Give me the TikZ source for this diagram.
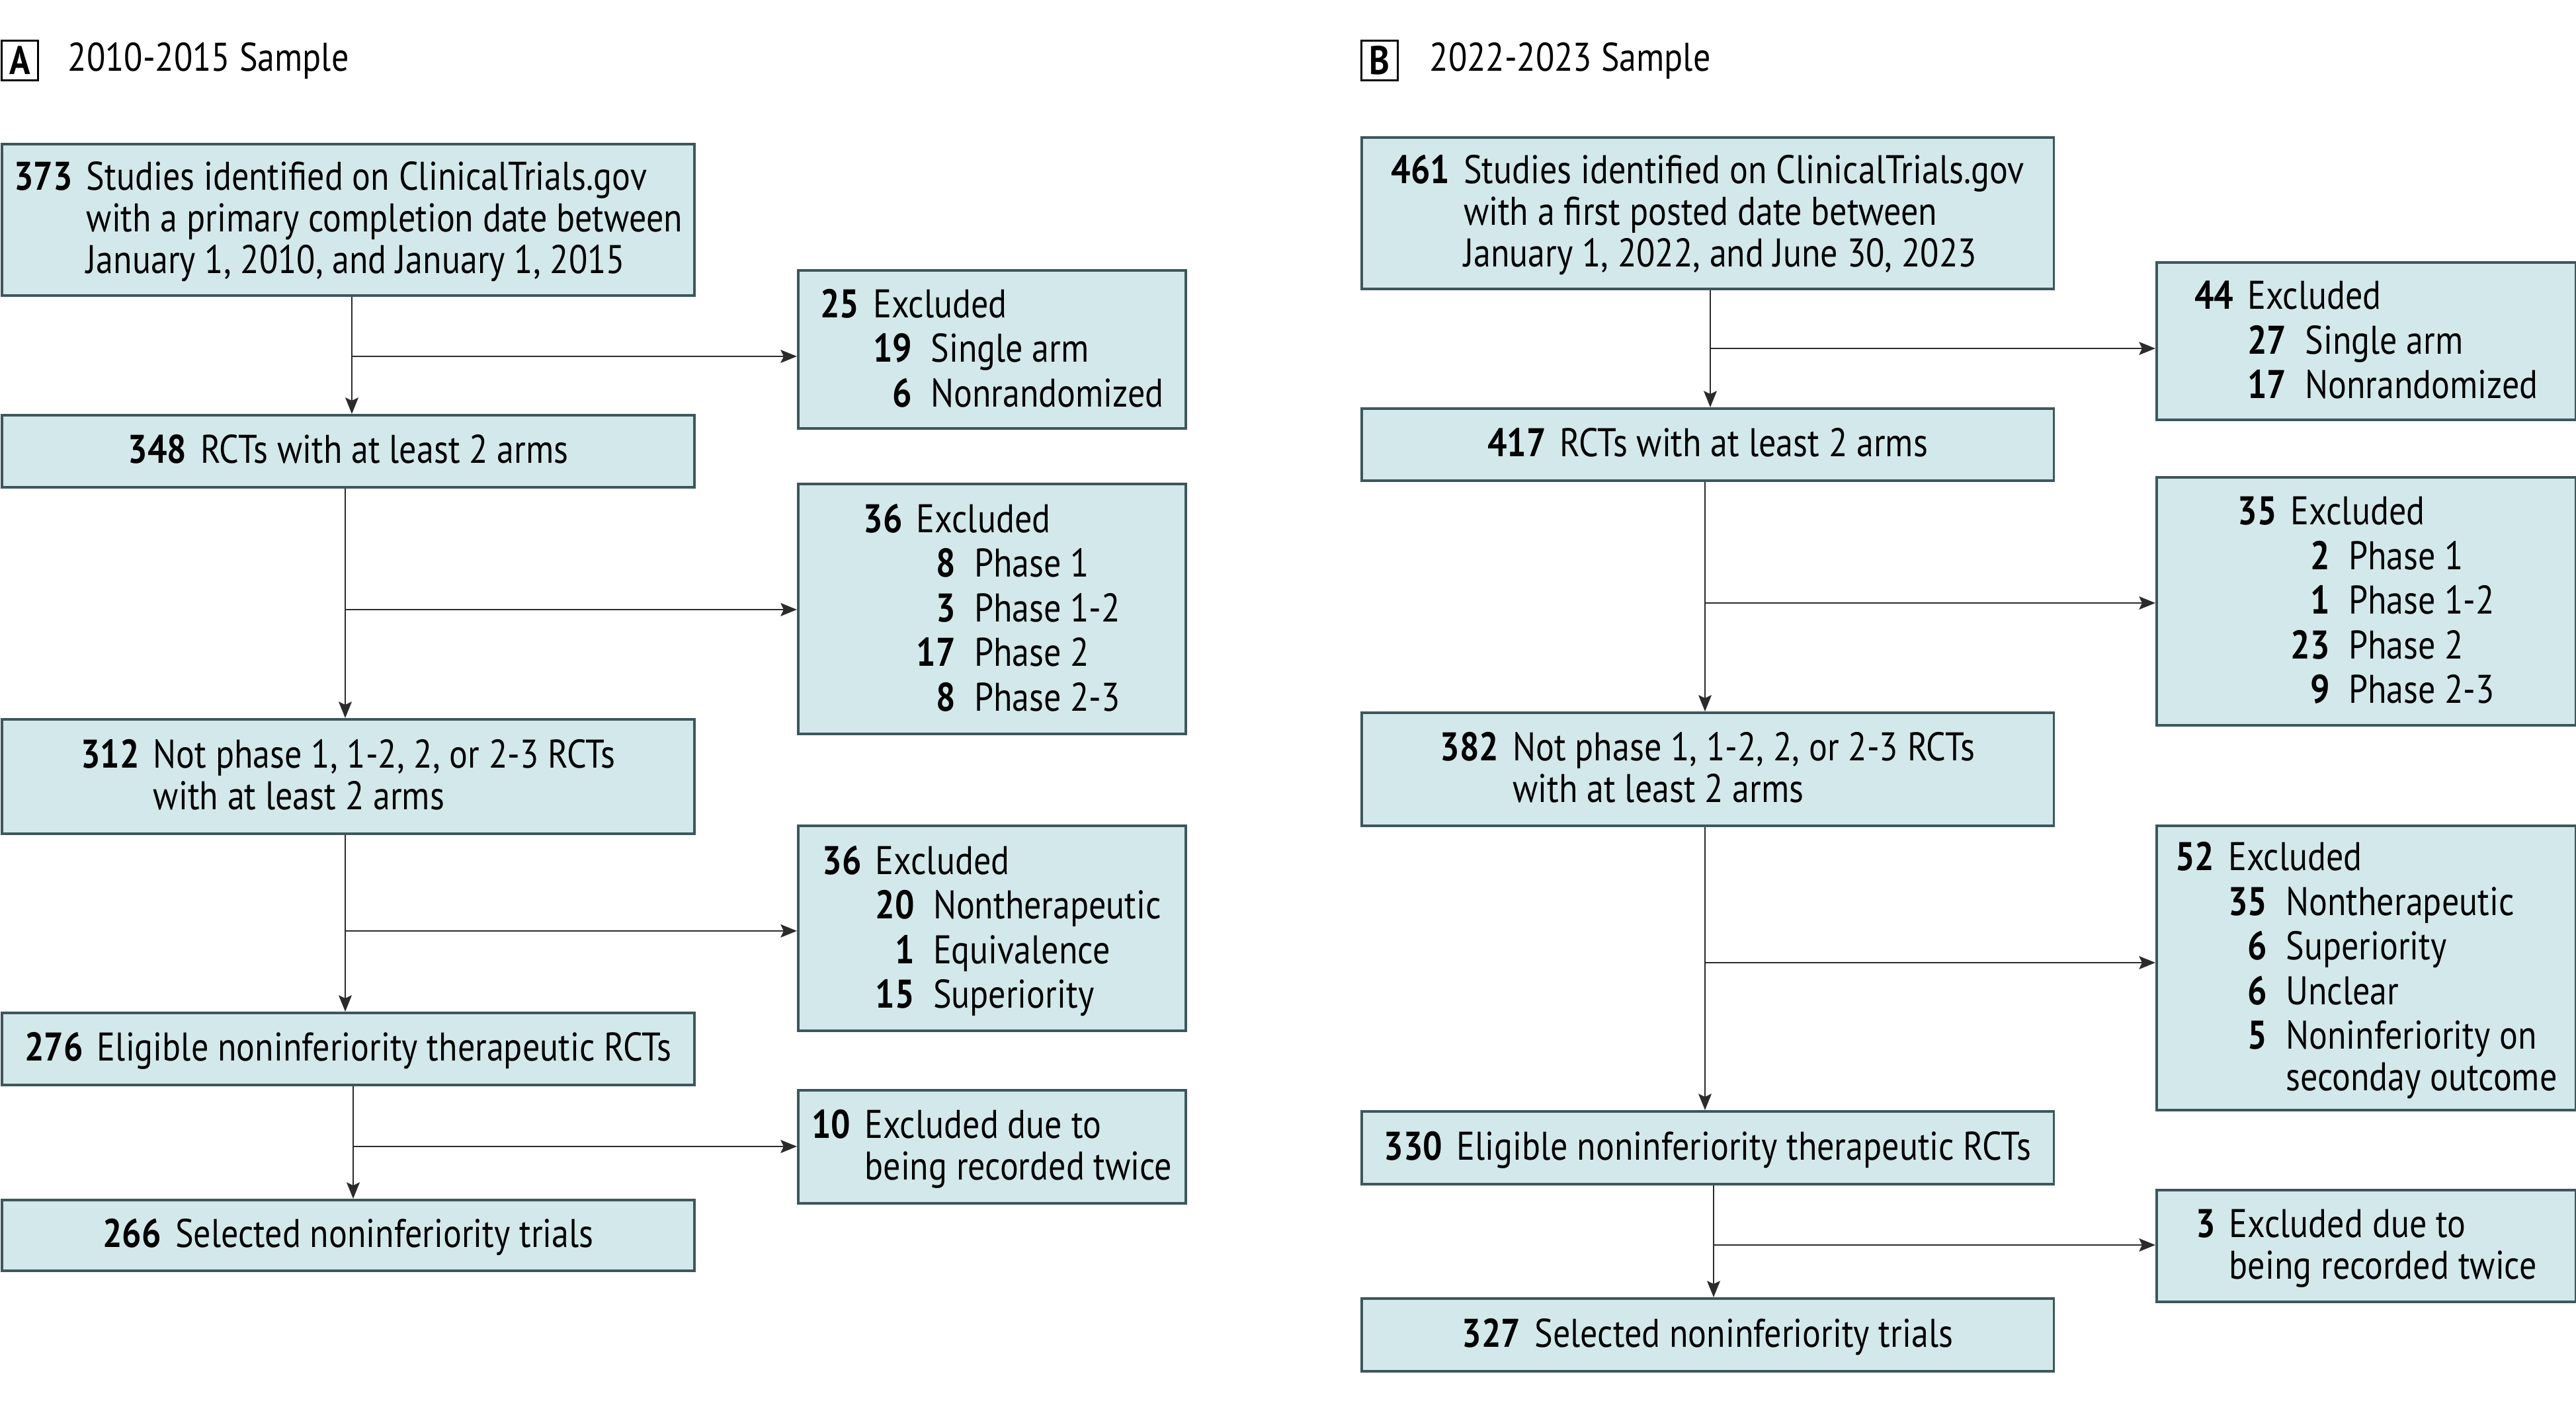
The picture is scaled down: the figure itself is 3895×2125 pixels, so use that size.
\documentclass[tikz,border=0pt]{standalone}
\usepackage{fontspec}
\setmainfont[FakeStretch=0.86]{PT Sans}
\usetikzlibrary{arrows.meta}
\definecolor{boxfill}{HTML}{D3E8EB}
\definecolor{boxline}{HTML}{3D575C}
\definecolor{arrcol}{HTML}{2B2B2B}
\newcommand{\lowr}[1]{\raisebox{-1.7pt}[\height][\depth]{#1}}
\tikzset{
  fbox/.style={draw=boxline, fill=boxfill, line width=1pt, anchor=north west,
    inner sep=0pt, font=\fontsize{17.2}{17.9}\selectfont},
  lbox/.style={fbox, font=\fontsize{17.2}{19.2}\selectfont},
  tag/.style={draw=black, line width=0.75pt, anchor=north west, inner sep=0pt,
    minimum width=0.55cm, minimum height=0.6cm, font=\fontsize{17.2}{17.9}\selectfont\bfseries},
  ttl/.style={anchor=west, inner sep=0pt, font=\fontsize{17.2}{17.9}\selectfont},
  arr/.style={draw=arrcol, line width=0.8pt, -{Stealth[length=7pt,width=5.6pt,inset=1.3pt]}},
}
\newcommand{\mrow}[2]{\lowr{\begin{tabular}{@{}r@{\hspace{6pt}}l@{}}\textbf{#1} & #2\end{tabular}}}
\begin{document}
\begin{tikzpicture}[x=0.01cm,y=-0.01cm]
\useasboundingbox (0,0) rectangle (3895,2125);
% ---------- Panel A ----------
\node[tag] (tA) at (1,60) {A};
\node[ttl] (ttA) at (102,92) {2010-2015 Sample};

\node[fbox, minimum width=10.46cm, minimum height=2.29cm] (A1) at (1.5,216)
 {\lowr{\begin{tabular}{@{}r@{\hspace{6pt}}l@{}}\textbf{373} & Studies identified on ClinicalTrials.gov\\ & with a primary completion date between\\ & January 1, 2010, and January 1, 2015\end{tabular}}};
\node[lbox, minimum width=5.86cm, minimum height=2.39cm] (EA1) at (1205,407)
 {\lowr{\begin{tabular}{@{}r@{\hspace{6pt}}r@{\hspace{8pt}}l@{}}\textbf{25} & \multicolumn{2}{@{}l@{}}{Excluded}\\ & \textbf{19} & Single arm\\ & \textbf{6} & Nonrandomized\end{tabular}}};
\node[fbox, minimum width=10.46cm, minimum height=1.09cm] (A2) at (1.5,626)
 {\mrow{348}{RCTs with at least 2 arms}};
\node[lbox, minimum width=5.86cm, minimum height=3.78cm] (EA2) at (1205,730)
 {\lowr{\begin{tabular}{@{}r@{\hspace{6pt}}r@{\hspace{8pt}}l@{}}\textbf{36} & \multicolumn{2}{@{}l@{}}{Excluded}\\ & \textbf{8} & Phase 1\\ & \textbf{3} & Phase 1-2\\ & \textbf{17} & Phase 2\\ & \textbf{8} & Phase 2-3\end{tabular}}};
\node[fbox, minimum width=10.46cm, minimum height=1.73cm] (A3) at (1.5,1086)
 {\lowr{\begin{tabular}{@{}r@{\hspace{6pt}}l@{}}\textbf{312} & Not phase 1, 1-2, 2, or 2-3 RCTs\\ & with at least 2 arms\end{tabular}}};
\node[lbox, minimum width=5.86cm, minimum height=3.10cm] (EA3) at (1205,1247)
 {\lowr{\begin{tabular}{@{}r@{\hspace{6pt}}r@{\hspace{8pt}}l@{}}\textbf{36} & \multicolumn{2}{@{}l@{}}{Excluded}\\ & \textbf{20} & Nontherapeutic\\ & \textbf{1} & Equivalence\\ & \textbf{15} & Superiority\end{tabular}}};
\node[fbox, minimum width=10.46cm, minimum height=1.09cm] (A4) at (1.5,1530)
 {\mrow{276}{Eligible noninferiority therapeutic RCTs}};
\node[fbox, minimum width=5.86cm, minimum height=1.71cm] (EA4) at (1205,1647)
 {\lowr{\begin{tabular}{@{}r@{\hspace{6pt}}l@{}}\textbf{10} & Excluded due to\\ & being recorded twice\end{tabular}}};
\node[fbox, minimum width=10.46cm, minimum height=1.07cm] (A5) at (1.5,1813)
 {\mrow{266}{Selected noninferiority trials}};

\coordinate (ca1) at (532,539);
\coordinate (ca2) at (522,922);
\coordinate (ca3) at (522,1408);
\coordinate (ca4) at (534,1734);
\draw[arr] (A1.south -| ca1) -- (A2.north -| ca1);
\draw[arr] (ca1) -- (ca1 -| EA1.west);
\draw[arr] (A2.south -| ca2) -- (A3.north -| ca2);
\draw[arr] (ca2) -- (ca2 -| EA2.west);
\draw[arr] (A3.south -| ca3) -- (A4.north -| ca3);
\draw[arr] (ca3) -- (ca3 -| EA3.west);
\draw[arr] (A4.south -| ca4) -- (A5.north -| ca4);
\draw[arr] (ca4) -- (ca4 -| EA4.west);

% ---------- Panel B ----------
\node[tag] (tB) at (2057,60) {B};
\node[ttl] (ttB) at (2161,92) {2022-2023 Sample};

\node[fbox, minimum width=10.46cm, minimum height=2.29cm] (B1) at (2057,206)
 {\lowr{\begin{tabular}{@{}r@{\hspace{6pt}}l@{}}\textbf{461} & Studies identified on ClinicalTrials.gov\\ & with a first posted date between\\ & January 1, 2022, and June 30, 2023\end{tabular}}};
\node[lbox, minimum width=6.34cm, minimum height=2.38cm] (EB1) at (3259,395)
 {\lowr{\begin{tabular}{@{}r@{\hspace{6pt}}r@{\hspace{8pt}}l@{}}\textbf{44} & \multicolumn{2}{@{}l@{}}{Excluded}\\ & \textbf{27} & Single arm\\ & \textbf{17} & Nonrandomized\end{tabular}}};
\node[fbox, minimum width=10.46cm, minimum height=1.09cm] (B2) at (2057,616)
 {\mrow{417}{RCTs with at least 2 arms}};
\node[lbox, minimum width=6.34cm, minimum height=3.75cm] (EB2) at (3259,720)
 {\lowr{\begin{tabular}{@{}r@{\hspace{6pt}}r@{\hspace{8pt}}l@{}}\textbf{35} & \multicolumn{2}{@{}l@{}}{Excluded}\\ & \textbf{2} & Phase 1\\ & \textbf{1} & Phase 1-2\\ & \textbf{23} & Phase 2\\ & \textbf{9} & Phase 2-3\end{tabular}}};
\node[fbox, minimum width=10.46cm, minimum height=1.71cm] (B3) at (2057,1076)
 {\lowr{\begin{tabular}{@{}r@{\hspace{6pt}}l@{}}\textbf{382} & Not phase 1, 1-2, 2, or 2-3 RCTs\\ & with at least 2 arms\end{tabular}}};
\node[lbox, minimum width=6.34cm, minimum height=4.30cm] (EB3) at (3259,1247)
 {\lowr{\begin{tabular}{@{}r@{\hspace{6pt}}r@{\hspace{8pt}}l@{}}\textbf{52} & \multicolumn{2}{@{}l@{}}{Excluded}\\ & \textbf{35} & Nontherapeutic\\ & \textbf{6} & Superiority\\ & \textbf{6} & Unclear\\ & \textbf{5} & Noninferiority on\\[-1.3pt] & & seconday outcome\end{tabular}}};
\node[fbox, minimum width=10.46cm, minimum height=1.10cm] (B4) at (2057,1679)
 {\mrow{330}{Eligible noninferiority therapeutic RCTs}};
\node[fbox, minimum width=6.34cm, minimum height=1.69cm] (EB4) at (3259,1798)
 {\lowr{\begin{tabular}{@{}r@{\hspace{6pt}}l@{}}\textbf{3} & Excluded due to\\ & being recorded twice\end{tabular}}};
\node[fbox, minimum width=10.46cm, minimum height=1.10cm] (B5) at (2057,1962)
 {\mrow{327}{Selected noninferiority trials}};

\coordinate (cb1) at (2586,527);
\coordinate (cb2) at (2578,912);
\coordinate (cb3) at (2578,1456);
\coordinate (cb4) at (2591,1883);
\draw[arr] (B1.south -| cb1) -- (B2.north -| cb1);
\draw[arr] (cb1) -- (cb1 -| EB1.west);
\draw[arr] (B2.south -| cb2) -- (B3.north -| cb2);
\draw[arr] (cb2) -- (cb2 -| EB2.west);
\draw[arr] (B3.south -| cb3) -- (B4.north -| cb3);
\draw[arr] (cb3) -- (cb3 -| EB3.west);
\draw[arr] (B4.south -| cb4) -- (B5.north -| cb4);
\draw[arr] (cb4) -- (cb4 -| EB4.west);
\end{tikzpicture}
\end{document}
